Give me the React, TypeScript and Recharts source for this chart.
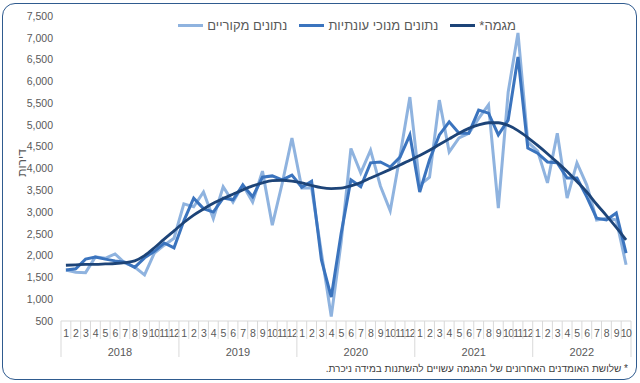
import React from 'react'
import { LineChart, Line, XAxis, YAxis } from 'recharts'

const years = [2018, 2019, 2020, 2021, 2022]
const monthsPerYear = [12, 12, 12, 12, 10]

// נתונים מקוריים
const original = [
  1670, 1620, 1610, 1970, 1940, 2040, 1830, 1740, 1560, 2060, 2240, 2400,
  3190, 3120, 3460, 2850, 3580, 3230, 3620, 3230, 3940, 2700, 3650, 4700,
  3550, 3550, 2060, 600, 2300, 4460, 3900, 4420, 3600, 3030, 4300, 5640,
  3620, 3800, 5570, 4380, 4700, 4810, 5150, 5460, 3090, 5750, 7110, 4610,
  4400, 3670, 4810, 3320, 4130, 3620, 2820, 2860, 2820, 1790,
]

// נתונים מנוכי עונתיות
const seasonal = [
  1670, 1700, 1920, 1970, 1920, 1880, 1850, 1730, 1950, 2100, 2290, 2180,
  2800, 3320, 3080, 3000, 3320, 3280, 3620, 3350, 3800, 3830, 3740, 3850,
  3570, 3710, 1900, 1050, 2500, 3740, 3580, 4130, 4150, 4035, 4260, 4770,
  3460, 4200, 4770, 5070, 4810, 4810, 5340, 5270, 4770, 5110, 6560, 4470,
  4350, 4150, 4130, 3780, 3780, 3350, 2860, 2820, 2980, 2060,
]

// מגמה
const trend = [
  1780, 1790, 1800, 1800, 1810, 1820, 1840, 1880, 2000, 2180, 2380, 2570,
  2760, 2930, 3070, 3200, 3310, 3410, 3510, 3600, 3670, 3720, 3730, 3710,
  3670, 3610, 3560, 3540, 3550, 3600, 3680, 3780, 3880, 3980, 4080, 4190,
  4300, 4420, 4550, 4680, 4810, 4920, 5000, 5050, 5050, 4990, 4870, 4710,
  4530, 4340, 4140, 3930, 3700, 3460, 3180, 2920, 2650, 2360,
]

const yTicks = [500, 1000, 1500, 2000, 2500, 3000, 3500, 4000, 4500, 5000, 5500, 6000, 6500, 7000, 7500]

const data: { key: string; year: number; month: number; original: number; seasonal: number; trend: number }[] = []
years.forEach((year, yi) => {
  for (let m = 1; m <= monthsPerYear[yi]; m++) {
    const i = data.length
    data.push({ key: `${year}-${m}`, year, month: m, original: original[i], seasonal: seasonal[i], trend: trend[i] })
  }
})

const W = 640
const H = 383
const MARGIN = { top: 16, right: 9, bottom: 0, left: 0 }
const Y_AXIS_W = 61
const X_AXIS_H = 62
const AXIS_Y = H - MARGIN.bottom - X_AXIS_H
const PLOT_W = W - MARGIN.left - MARGIN.right - Y_AXIS_W
const BW = PLOT_W / data.length

const TEXT = '#595959'
const SEP = '#d9d9d9'
const FONT = "'Liberation Sans', Arial, sans-serif"

const C_ORIG = '#8fb3df'
const C_SA = '#3b74be'
const C_TREND = '#1d4478'

function MonthTick(props: any) {
  const { x, payload } = props
  const d = data[payload.index]
  if (!d) return null
  const left = x - BW / 2
  const count = monthsPerYear[years.indexOf(d.year)]
  const last = payload.index === data.length - 1
  return (
    <g>
      <line x1={left} y1={AXIS_Y} x2={left} y2={d.month === 1 ? AXIS_Y + 36 : AXIS_Y + 18} stroke={SEP} />
      {last && <line x1={x + BW / 2} y1={AXIS_Y} x2={x + BW / 2} y2={AXIS_Y + 36} stroke={SEP} />}
      <text x={x} y={AXIS_Y + 16} textAnchor="middle" fontSize={10.5} letterSpacing={-0.6} fill={TEXT} fontFamily={FONT}>
        {d.month}
      </text>
      {d.month === Math.floor(count / 2) && (
        <text x={x + BW / 2} y={AXIS_Y + 35} textAnchor="middle" fontSize={11} fill={TEXT} fontFamily={FONT}>
          {d.year}
        </text>
      )}
    </g>
  )
}

const legendItems = [
  { label: 'מגמה*', color: C_TREND },
  { label: 'נתונים מנוכי עונתיות', color: C_SA },
  { label: 'נתונים מקוריים', color: C_ORIG },
]

export default function App() {
  return (
    <div style={{ position: 'fixed', left: 0, top: 0, width: W, height: H, background: '#fff', fontFamily: FONT }}>
      <div
        style={{
          position: 'absolute', left: 2, top: 3, width: W - 5, height: H - 6,
          border: '1.5px solid #2f5b8f', borderRadius: 13, boxSizing: 'border-box',
        }}
      />
      <LineChart width={W} height={H} data={data} margin={MARGIN}>
        <XAxis
          dataKey="key"
          scale="band"
          interval={0}
          height={X_AXIS_H}
          tickLine={false}
          axisLine={{ stroke: SEP }}
          tick={<MonthTick />}
        />
        <YAxis
          width={Y_AXIS_W}
          domain={[500, 7500]}
          ticks={yTicks}
          interval={0}
          axisLine={false}
          tickLine={false}
          tick={{ fontSize: 10.5, fill: TEXT, fontFamily: FONT }}
          tickFormatter={(v: number) => v.toLocaleString('en-US')}
        />
        <Line dataKey="original" type="linear" stroke={C_ORIG} strokeWidth={3} dot={false} isAnimationActive={false} />
        <Line dataKey="seasonal" type="linear" stroke={C_SA} strokeWidth={3} dot={false} isAnimationActive={false} />
        <Line dataKey="trend" type="monotone" stroke={C_TREND} strokeWidth={2.8} dot={false} isAnimationActive={false} />
      </LineChart>

      {/* legend */}
      <div
        style={{
          position: 'absolute', top: 18, right: 124, display: 'flex',
          direction: 'rtl', gap: 12, fontSize: 13, color: TEXT, whiteSpace: 'nowrap',
        }}
      >
        {legendItems.map(it => (
          <div key={it.label} style={{ display: 'flex', alignItems: 'center', gap: 4 }}>
            <span>{it.label}</span>
            <span style={{ display: 'inline-block', width: 25, height: 3, background: it.color }} />
          </div>
        ))}
      </div>

      {/* y label */}
      <div
        style={{
          position: 'absolute', left: 22, top: 163, transform: 'translate(-50%, -50%) rotate(-90deg)',
          fontSize: 12, color: TEXT, direction: 'rtl', whiteSpace: 'nowrap',
        }}
      >
        דירות
      </div>

      {/* footnote */}
      <div
        style={{
          position: 'absolute', right: 12, top: 363, fontSize: 10, color: '#404040', direction: 'rtl', whiteSpace: 'nowrap',
        }}
      >
        * שלושת האומדנים האחרונים של המגמה עשויים להשתנות במידה ניכרת.
      </div>
    </div>
  )
}
